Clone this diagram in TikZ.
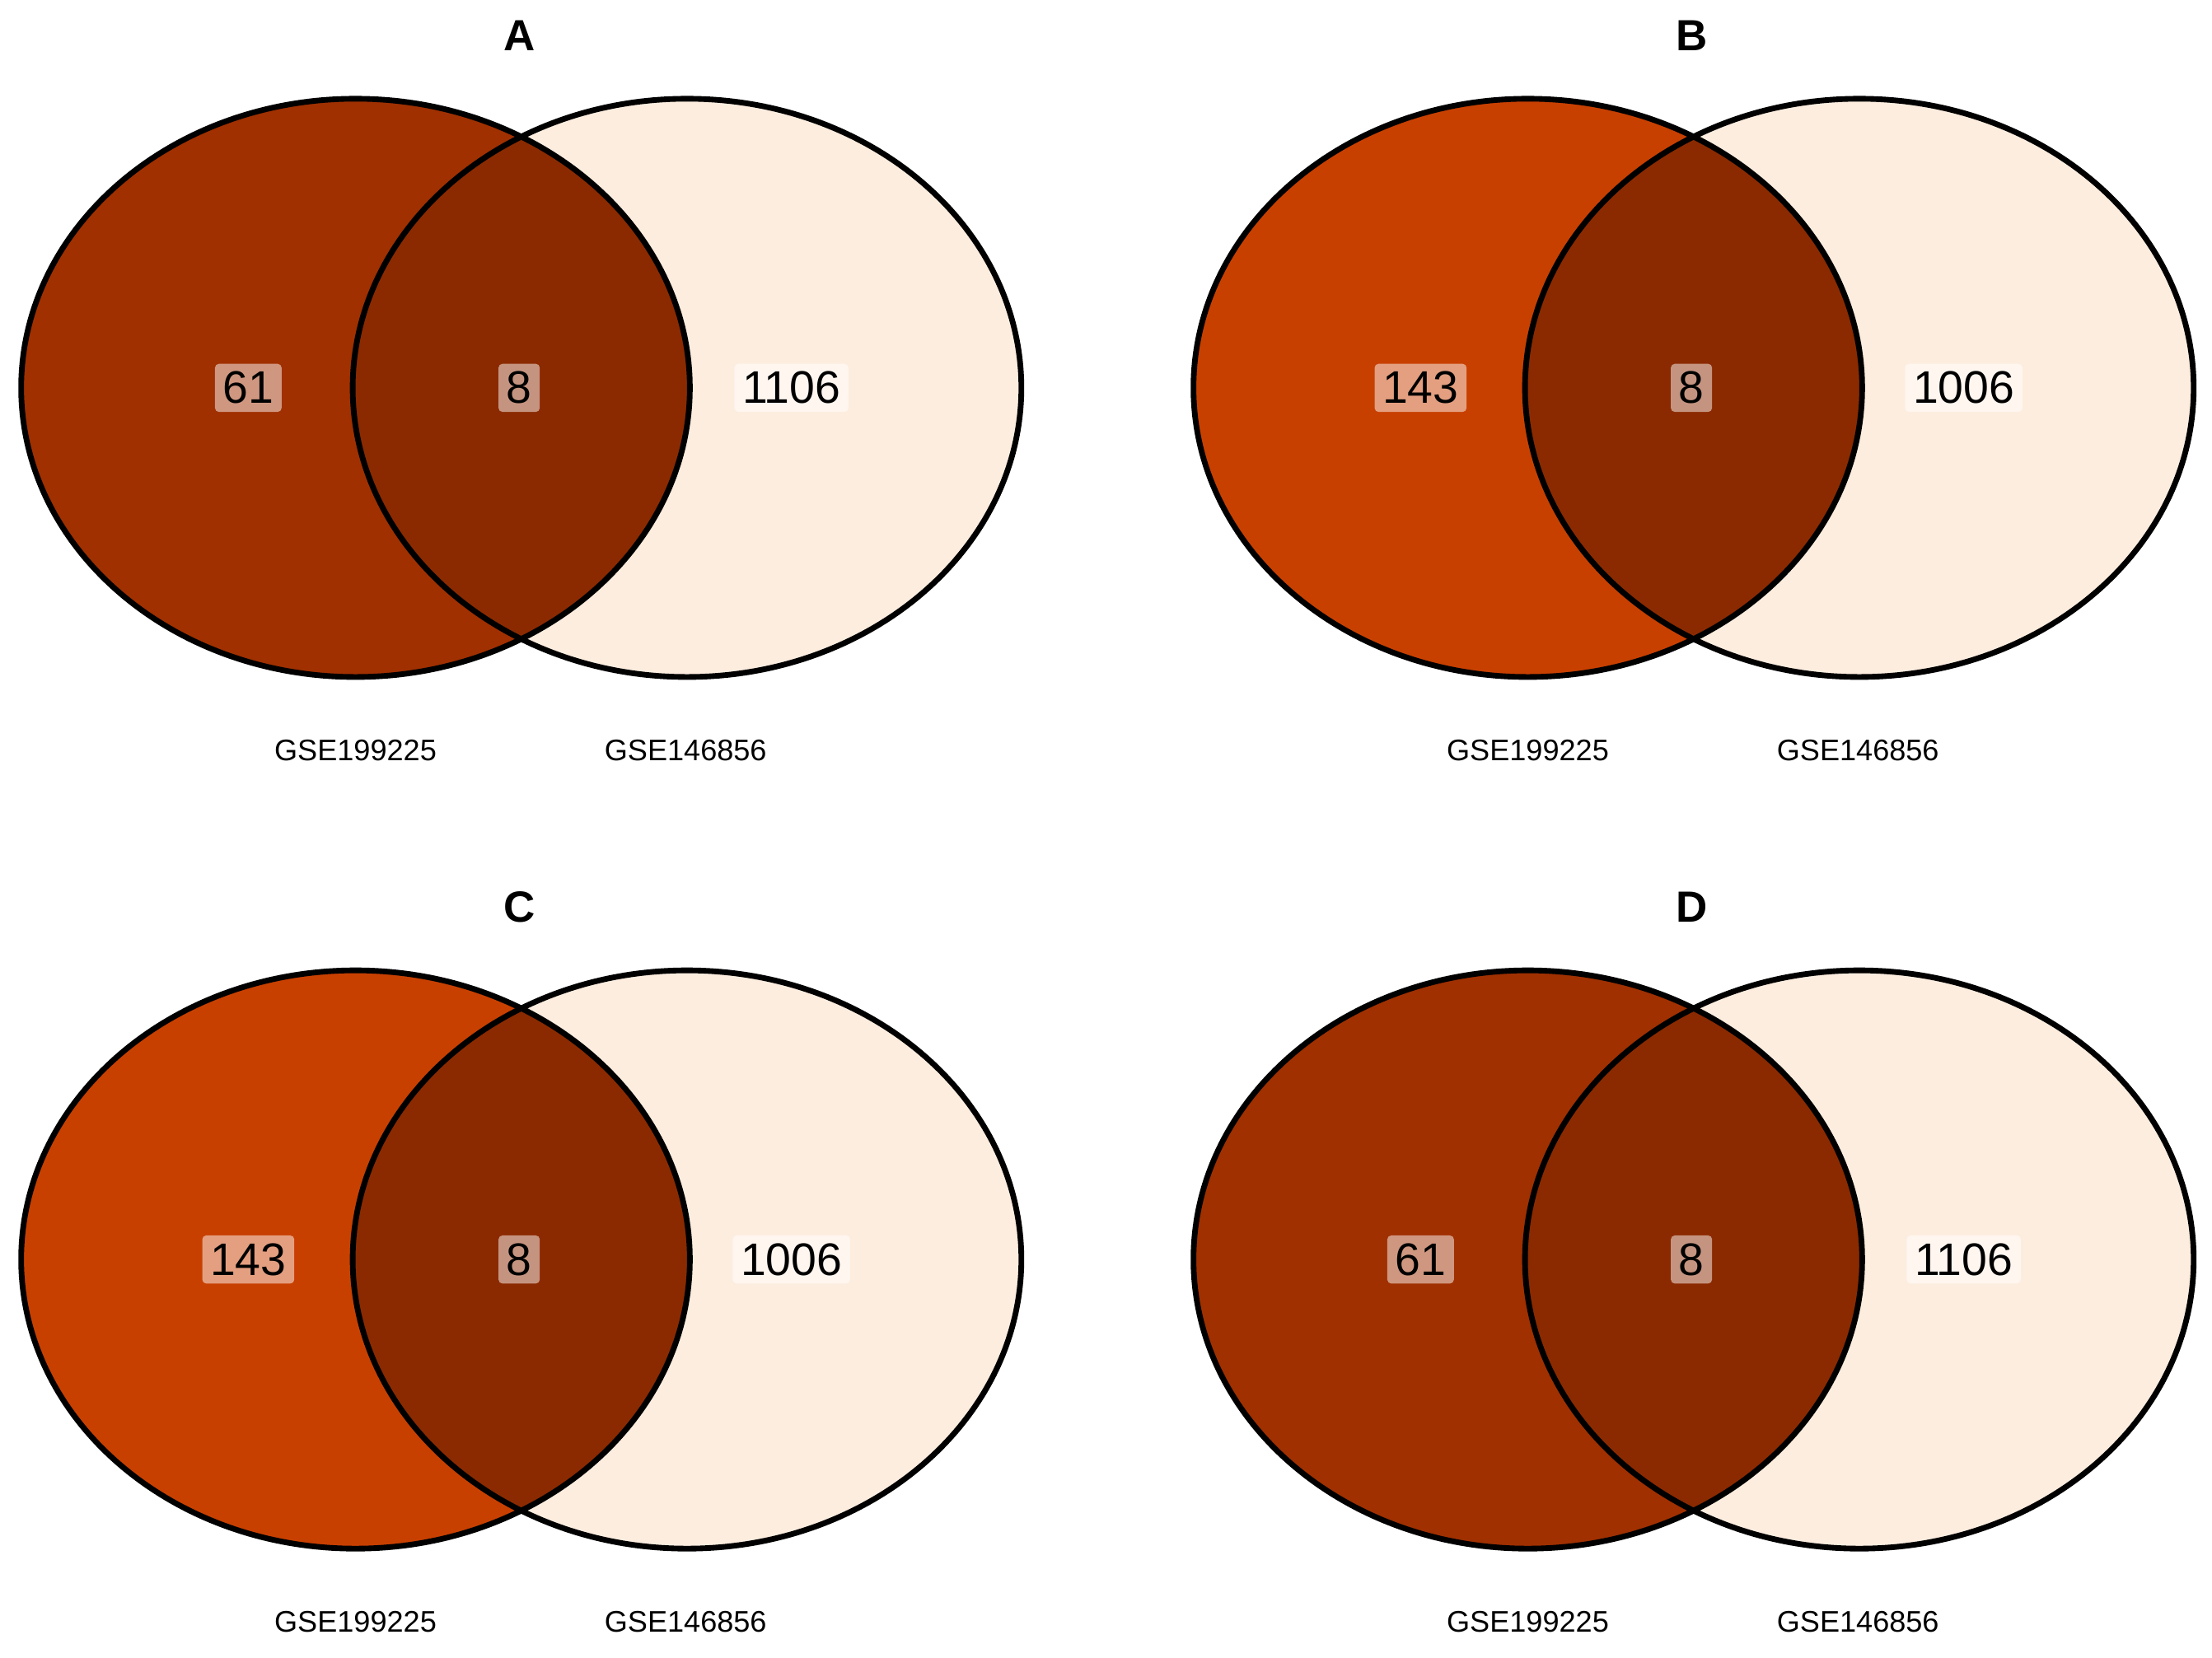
\documentclass[tikz,border=0pt]{standalone}
\usepackage{fontspec}
\setmainfont{Liberation Sans}
\definecolor{rustA}{HTML}{A03000}
\definecolor{rustB}{HTML}{C84000}
\definecolor{inter}{HTML}{8B2A00}
\definecolor{pale}{HTML}{FDEDDF}
\tikzset{
  vline/.style={line width=5.7pt,black},
  numbox/.style={fill=white,fill opacity=0.5,text opacity=1,rounded corners=4pt,inner sep=8pt,font=\fontsize{46}{50}\selectfont},
  setlab/.style={font=\fontsize{30}{34}\selectfont},
  ttl/.style={font=\bfseries\fontsize{44}{48}\selectfont}
}
\newcommand{\myvenn}[7]{%
\begin{scope}[shift={(#1,#2)}]
  \fill[#3] (252,-275) ellipse (237 and 205);
  \fill[pale] (487,-275) ellipse (237 and 205);
  \begin{scope}
    \clip (252,-275) ellipse (237 and 205);
    \fill[inter] (487,-275) ellipse (237 and 205);
  \end{scope}
  \draw[vline] (252,-275) ellipse (237 and 205);
  \draw[vline] (487,-275) ellipse (237 and 205);
  \node[numbox] (#7l) at (176,-275) {#5};
  \node[numbox] (#7m) at (368,-275) {8};
  \node[numbox] (#7r) at (561,-275) {#6};
  \node[ttl] (#7t) at (368,-25) {#4};
  \node[setlab] (#7a) at (252,-532) {GSE199225};
  \node[setlab] (#7b) at (486,-532) {GSE146856};
\end{scope}}
\begin{document}
\begin{tikzpicture}[x=0.05cm,y=0.05cm]
\useasboundingbox (0,0) rectangle (1568,-1175);
\myvenn{0}{0}{rustA}{A}{61}{1106}{pa}
\myvenn{831}{0}{rustB}{B}{143}{1006}{pb}
\myvenn{0}{-618}{rustB}{C}{143}{1006}{pc}
\myvenn{831}{-618}{rustA}{D}{61}{1106}{pd}
\end{tikzpicture}
\end{document}
